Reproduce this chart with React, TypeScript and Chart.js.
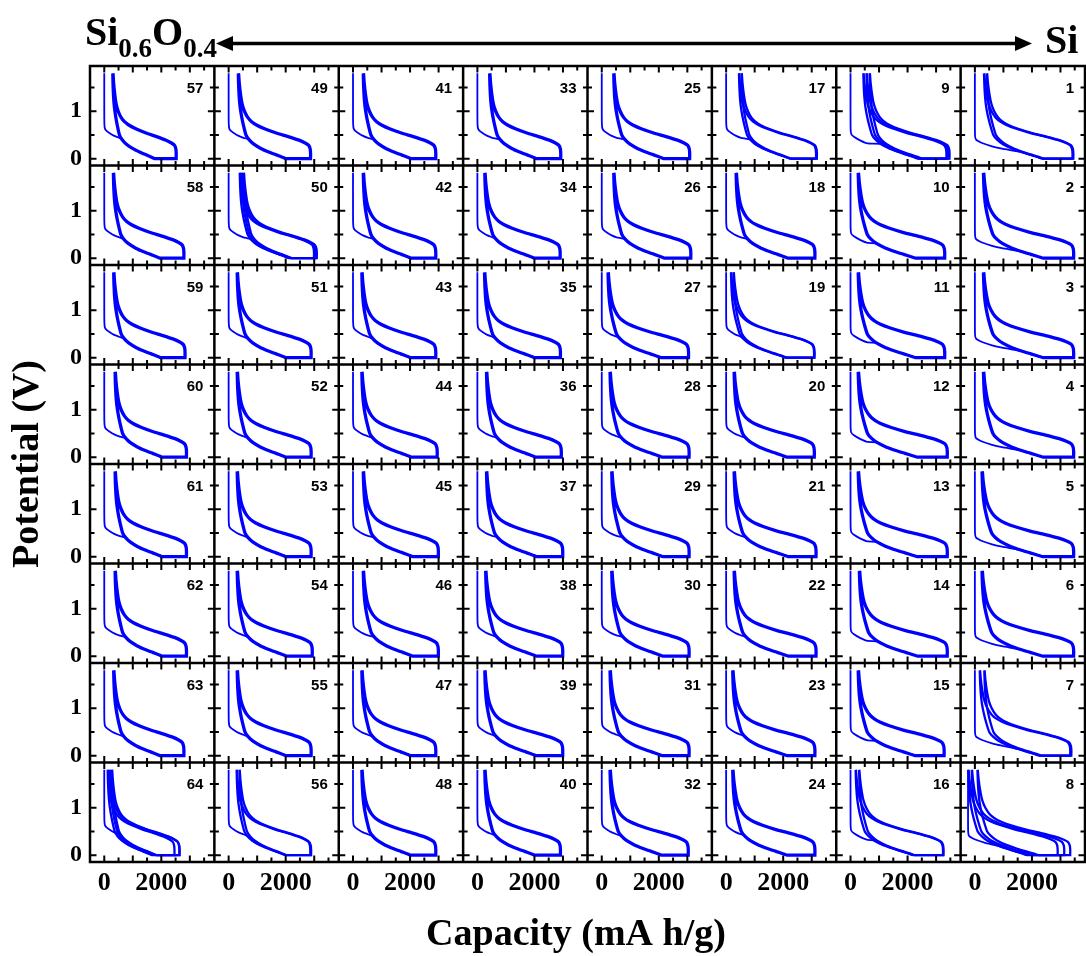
import React, { useEffect, useRef } from "react";
import { Chart, registerables } from "chart.js";

Chart.register(...registerables);

// ---------- data ----------
// panel numbers, top row first, left column first
const PANEL_LABELS: number[][] = [
  [57, 49, 41, 33, 25, 17, 9, 1],
  [58, 50, 42, 34, 26, 18, 10, 2],
  [59, 51, 43, 35, 27, 19, 11, 3],
  [60, 52, 44, 36, 28, 20, 12, 4],
  [61, 53, 45, 37, 29, 21, 13, 5],
  [62, 54, 46, 38, 30, 22, 14, 6],
  [63, 55, 47, 39, 31, 23, 15, 7],
  [64, 56, 48, 40, 32, 24, 16, 8],
];

// capacity at the end of lithiation (mA h/g)
const CAP_END: number[][] = [
  [2520, 2870, 2900, 2920, 3080, 3150, 3420, 3440],
  [2790, 3050, 2900, 2900, 3120, 3110, 3300, 3460],
  [2830, 2890, 2900, 2910, 3040, 3090, 3300, 3460],
  [2880, 2890, 2950, 2940, 3060, 3090, 3390, 3460],
  [2880, 2890, 2990, 2990, 3060, 3150, 3390, 3460],
  [2880, 2930, 2990, 2990, 3060, 3150, 3390, 3460],
  [2790, 2890, 2900, 2990, 3060, 3110, 3280, 3380],
  [2630, 2870, 2900, 2910, 3030, 3110, 3250, 3340],
];

// capacity where the reversible loop starts (irreversible capacity, mA h/g)
const LOOP_START: number[][] = [
  [300, 340, 360, 430, 420, 480, 520, 360],
  [320, 450, 360, 260, 420, 350, 270, 300],
  [330, 300, 310, 250, 220, 210, 270, 300],
  [380, 300, 310, 320, 290, 280, 270, 300],
  [380, 300, 360, 320, 350, 280, 270, 250],
  [380, 300, 360, 290, 350, 280, 310, 250],
  [330, 300, 310, 260, 290, 230, 270, 200],
  [200, 300, 310, 260, 290, 230, 220, 0],
];

// panels where separate cycles are visible
const MULTI_LABELS = [9, 17, 1, 50, 64, 8, 7, 16, 56, 19];
const MULTI_STARTS = [
  [450, 560, 670], [450, 540], [320, 420], [390, 460, 530], [120, 200, 270],
  [-230, -110, 90], [170, 330], [180, 300], [280, 380], [170, 260],
];
const MULTI_ENDS = [
  [3360, 3420, 3470], [3150, 3180], [3420, 3450], [2990, 3040, 3090], [2460, 2630, 2640],
  [2900, 3130, 3340], [3340, 3380], [3240, 3260], [2860, 2890], [3080, 3100],
];
const FIRST_START_LABELS = [8];
const FIRST_START_VALUES = [-240];

// reversible discharge: fraction of loop width, potential (V)
const DIS_U = [0, 0.004, 0.012, 0.024, 0.044, 0.071, 0.105, 0.148, 0.21, 0.318, 0.422, 0.525, 0.611, 0.66, 1.0];
const DIS_V = [1.8, 1.55, 1.3, 1.1, 0.9, 0.7, 0.5, 0.4, 0.31, 0.21, 0.14, 0.08, 0.03, 0.0, 0.0];
// charge: fraction of loop width, potential (V)
const CHG_U = [1.0, 1.001, 0.996, 0.975, 0.926, 0.84, 0.678, 0.525, 0.363, 0.251, 0.184, 0.13, 0.085, 0.053, 0.031, 0.0126, 0.0036];
const CHG_V = [0.0, 0.1, 0.2, 0.28, 0.33, 0.39, 0.47, 0.54, 0.63, 0.71, 0.78, 0.87, 1.0, 1.15, 1.35, 1.6, 1.8];

// first discharge onsets (capacity, potential) for SiOx-rich, intermediate, Si-rich columns
const FIRST_A_X = [0, 0, 4, 20, 70, 180, 350, 520];
const FIRST_A_V = [1.8, 1.0, 0.74, 0.64, 0.59, 0.54, 0.48, 0.44];
const FIRST_B_X = [0, 0, 4, 25, 120, 350, 600];
const FIRST_B_V = [1.8, 1.0, 0.62, 0.52, 0.46, 0.38, 0.32];
const FIRST_C_X = [0, 0, 4, 40, 250, 600, 950];
const FIRST_C_V = [1.8, 1.0, 0.5, 0.4, 0.33, 0.26, 0.21];
const FIRST_SHAPE_BY_COL = [0, 0, 0, 0, 0, 0, 1, 2];

// axes
const X_MIN = -500;
const X_MAX = 3860;
const Y_MIN = -0.145;
const Y_MAX = 1.955;
const X_TICK_VALUES = [0, 2000];
const X_TICK_LABELS = ["0", "2000"];
const Y_TICK_VALUES = [0, 1];
const Y_TICK_LABELS = ["0", "1"];
const X_MARKS = [0, 500, 1000, 1500, 2000, 2500, 3000, 3500];
const X_MAJOR = [0, 1000, 2000, 3000];
const Y_MARKS = [0, 0.5, 1, 1.5];
const Y_MAJOR = [0, 1];
const LABEL_V = 1.5;

// ---------- helpers ----------
const XSPAN = X_MAX - X_MIN;
const YSPAN = Y_MAX - Y_MIN;
const NR = PANEL_LABELS.length;
const NC = PANEL_LABELS[0].length;
const gx = (c: number, x: number) => c * XSPAN + (x - X_MIN);
const gy = (r: number, v: number) => (NR - 1 - r) * YSPAN + (v - Y_MIN);

const FIRST_SHAPES = [
  { x: FIRST_A_X, v: FIRST_A_V },
  { x: FIRST_B_X, v: FIRST_B_V },
  { x: FIRST_C_X, v: FIRST_C_V },
];

function loopCurve(start: number, end: number): number[][] {
  const w = end - start;
  const pts: number[][] = [];
  DIS_U.forEach((u, i) => pts.push([start + u * w, DIS_V[i]]));
  CHG_U.forEach((u, i) => pts.push([start + u * w, CHG_V[i]]));
  return pts;
}

function firstCurve(col: number, offset: number, start: number, end: number): number[][] {
  const s = FIRST_SHAPES[FIRST_SHAPE_BY_COL[col]];
  const pts = s.x.map((x, i) => [offset + x, s.v[i]]);
  const last = pts[pts.length - 1];
  const w = end - start;
  DIS_U.forEach((u, i) => {
    const xx = start + u * w;
    if (DIS_V[i] < last[1] && xx > last[0]) pts.push([xx, DIS_V[i]]);
  });
  return pts;
}

const BLUE = "rgb(0,0,255)";
const SERIF = "'Liberation Serif', 'Times New Roman', Times, serif";
const SANS = "'Liberation Sans', Arial, Helvetica, sans-serif";

function buildDatasets() {
  const ds: any[] = [];
  for (let r = 0; r < NR; r++) {
    for (let c = 0; c < NC; c++) {
      const label = PANEL_LABELS[r][c];
      const mi = MULTI_LABELS.indexOf(label);
      let loops: number[][] = [];
      if (mi >= 0) {
        loops = MULTI_STARTS[mi].map((s, k) => [s, MULTI_ENDS[mi][k]]);
      } else {
        loops = [[LOOP_START[r][c], CAP_END[r][c]]];
      }
      const fi = FIRST_START_LABELS.indexOf(label);
      const offset = fi >= 0 ? FIRST_START_VALUES[fi] : 0;
      const first = firstCurve(c, offset, loops[0][0], loops[0][1]);
      ds.push({
        label: `${label}-1`,
        data: first.map(([x, v]) => ({ x: gx(c, x), y: gy(r, v) })),
        showLine: true,
        borderColor: BLUE,
        borderWidth: 1.8,
        pointRadius: 0,
        tension: 0.15,
        fill: false,
      });
      loops.forEach((lp, k) => {
        ds.push({
          label: `${label}-loop${k}`,
          data: loopCurve(lp[0], lp[1]).map(([x, v]) => ({ x: gx(c, x), y: gy(r, v) })),
          showLine: true,
          borderColor: BLUE,
          borderWidth: mi >= 0 ? 2.3 : 3.3,
          pointRadius: 0,
          tension: 0.15,
          fill: false,
        });
      });
    }
  }
  return ds;
}

const panelPlugin = {
  id: "panelFrames",
  afterDatasetsDraw(chart: any) {
    const { ctx, chartArea } = chart;
    const xs = chart.scales.x;
    const ys = chart.scales.y;
    ctx.save();
    ctx.strokeStyle = "#000";
    ctx.lineCap = "butt";
    // inward ticks on every panel
    ctx.lineWidth = 2;
    for (let r = 0; r < NR; r++) {
      for (let c = 0; c < NC; c++) {
        const left = xs.getPixelForValue(c * XSPAN);
        const right = xs.getPixelForValue((c + 1) * XSPAN);
        const top = ys.getPixelForValue((NR - r) * YSPAN);
        const bottom = ys.getPixelForValue((NR - 1 - r) * YSPAN);
        ctx.beginPath();
        X_MARKS.forEach((m) => {
          const px = xs.getPixelForValue(gx(c, m));
          const len = X_MAJOR.includes(m) ? 6.5 : 4.5;
          ctx.moveTo(px, top);
          ctx.lineTo(px, top + len);
          ctx.moveTo(px, bottom);
          ctx.lineTo(px, bottom - len);
        });
        Y_MARKS.forEach((m) => {
          const py = ys.getPixelForValue(gy(r, m));
          const len = Y_MAJOR.includes(m) ? 6.5 : 4.5;
          ctx.moveTo(left, py);
          ctx.lineTo(left + len, py);
          ctx.moveTo(right, py);
          ctx.lineTo(right - len, py);
        });
        ctx.stroke();
      }
    }
    // panel frames
    ctx.lineWidth = 2.5;
    ctx.beginPath();
    for (let c = 0; c <= NC; c++) {
      const px = xs.getPixelForValue(c * XSPAN);
      ctx.moveTo(px, chartArea.top - 1.25);
      ctx.lineTo(px, chartArea.bottom + 1.25);
    }
    for (let r = 0; r <= NR; r++) {
      const py = ys.getPixelForValue(r * YSPAN);
      ctx.moveTo(chartArea.left - 1.25, py);
      ctx.lineTo(chartArea.right + 1.25, py);
    }
    ctx.stroke();
    // panel numbers
    ctx.fillStyle = "#000";
    ctx.font = `bold 15px ${SANS}`;
    ctx.textAlign = "right";
    ctx.textBaseline = "middle";
    for (let r = 0; r < NR; r++) {
      for (let c = 0; c < NC; c++) {
        const right = xs.getPixelForValue((c + 1) * XSPAN);
        const py = ys.getPixelForValue(gy(r, LABEL_V));
        ctx.fillText(String(PANEL_LABELS[r][c]), right - 11, py + 1);
      }
    }
    // x-axis title
    ctx.font = `bold 38px ${SERIF}`;
    ctx.textAlign = "center";
    ctx.textBaseline = "middle";
    ctx.fillText("Capacity (mA h/g)", 576, 935);
    // composition title
    ctx.textAlign = "left";
    ctx.textBaseline = "alphabetic";
    let tx = 85;
    const parts: [string, number, number][] = [
      ["Si", 40, 45],
      ["0.6", 27, 57],
      ["O", 40, 45],
      ["0.4", 27, 57],
    ];
    parts.forEach(([t, size, base]) => {
      ctx.font = `bold ${size}px ${SERIF}`;
      ctx.fillText(t, tx, base);
      tx += ctx.measureText(t).width;
    });
    ctx.font = `bold 40px ${SERIF}`;
    ctx.fillText("Si", 1045, 53);
    // double arrow
    const ay = 43.5;
    ctx.lineWidth = 3.5;
    ctx.beginPath();
    ctx.moveTo(228, ay);
    ctx.lineTo(1020, ay);
    ctx.stroke();
    ctx.beginPath();
    ctx.moveTo(216, ay);
    ctx.lineTo(233, ay - 7.5);
    ctx.lineTo(233, ay + 7.5);
    ctx.closePath();
    ctx.moveTo(1032, ay);
    ctx.lineTo(1015, ay - 7.5);
    ctx.lineTo(1015, ay + 7.5);
    ctx.closePath();
    ctx.fill();
    ctx.restore();
  },
};

export default function App() {
  const ref = useRef<HTMLCanvasElement | null>(null);
  useEffect(() => {
    if (!ref.current) return;
    const xTicks: number[] = [];
    for (let c = 0; c < NC; c++) X_TICK_VALUES.forEach((v) => xTicks.push(gx(c, v)));
    const yTicks: number[] = [];
    for (let r = NR - 1; r >= 0; r--) Y_TICK_VALUES.forEach((v) => yTicks.push(gy(r, v)));
    const chart = new Chart(ref.current, {
      type: "scatter",
      data: { datasets: buildDatasets() },
      plugins: [panelPlugin],
      options: {
        animation: false,
        responsive: false,
        devicePixelRatio: 1,
        layout: { padding: { left: 0, right: 1, top: 66, bottom: 0 } },
        plugins: { legend: { display: false }, tooltip: { enabled: false } },
        scales: {
          x: {
            type: "linear",
            min: 0,
            max: NC * XSPAN,
            afterBuildTicks: (s: any) => {
              s.ticks = xTicks.map((v) => ({ value: v }));
            },
            afterFit: (s: any) => {
              s.height = 94;
            },
            grid: { display: false, drawTicks: false },
            border: { display: false },
            ticks: {
              autoSkip: false,
              maxRotation: 0,
              minRotation: 0,
              padding: 6,
              color: "#000",
              font: { family: SERIF, size: 26, weight: "bold", lineHeight: 1.2 },
              callback: (_v: any, i: number) => X_TICK_LABELS[i % X_TICK_LABELS.length],
            },
          },
          y: {
            type: "linear",
            min: 0,
            max: NR * YSPAN,
            afterBuildTicks: (s: any) => {
              s.ticks = yTicks.map((v) => ({ value: v }));
            },
            afterFit: (s: any) => {
              s.width = 90;
            },
            grid: { display: false, drawTicks: false },
            border: { display: false },
            ticks: {
              autoSkip: false,
              padding: 8,
              color: "#000",
              font: { family: SERIF, size: 24, weight: "bold" },
              callback: (_v: any, i: number) => Y_TICK_LABELS[i % Y_TICK_LABELS.length],
            },
            title: {
              display: true,
              text: "Potential (V)",
              color: "#000",
              font: { family: SERIF, size: 38, weight: "bold", lineHeight: 1 },
              padding: { top: 9, bottom: 0 },
            },
          },
        },
      } as any,
    });
    return () => chart.destroy();
  }, []);
  return (
    <div style={{ position: "absolute", left: 0, top: 0, width: 1086, height: 956, background: "#fff" }}>
      <canvas ref={ref} width={1086} height={956} style={{ width: 1086, height: 956, display: "block" }} />
    </div>
  );
}
